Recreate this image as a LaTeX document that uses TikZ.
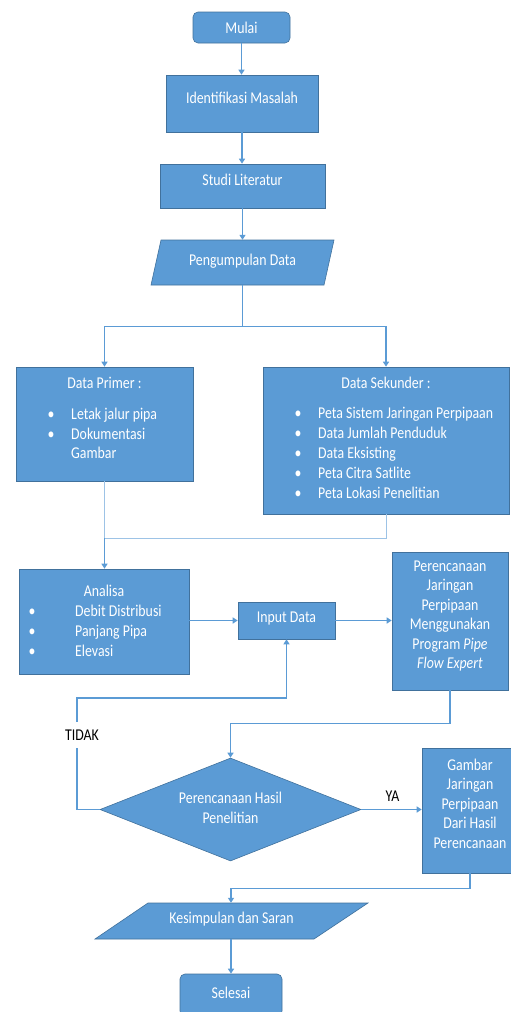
\documentclass[tikz,border=0pt]{standalone}
\usepackage{fontspec}
\setmainfont[FakeStretch=0.84]{Carlito}
\usetikzlibrary{arrows.meta,shapes.geometric}
\definecolor{boxc}{HTML}{5B9BD5}
\definecolor{bordc}{HTML}{41719C}
\definecolor{linec}{HTML}{5B9BD5}
\definecolor{lightc}{HTML}{9DC3E6}
\newcommand\myfs{\fontsize{16.5}{20}\selectfont}
\begin{document}
\begin{tikzpicture}[x=1pt,y=-1pt,
 box/.style={draw=bordc,fill=boxc,line width=0.6pt,inner sep=0pt},
 rbox/.style={box,rounded corners=5pt},
 ghost/.style={inner sep=0pt},
 txt/.style={text=white,anchor=base,inner sep=0pt,font=\myfs},
 btxt/.style={txt,anchor=base west},
 lab/.style={fill=white,text=black,inner sep=0pt,font=\myfs},
 conn/.style={draw=linec,line width=1.3pt},
 arr/.style={conn,-{Triangle[width=6pt,length=5pt]}},
 light/.style={draw=lightc,line width=1pt}]
\useasboundingbox (0,0) rectangle (511,1012);
% --- boxes ---
\node[rbox,minimum width=97pt,minimum height=31pt] (mulai) at (241.5,27.5) {};
\node[txt] (tmulai) at (241.5,33) {Mulai};
\node[box,minimum width=152pt,minimum height=57pt] (ident) at (242,103.5) {};
\node[txt] (tident) at (242,103) {Identifikasi Masalah};
\node[box,minimum width=165pt,minimum height=44pt] (studi) at (242.5,186) {};
\node[txt] (tstudi) at (242.5,185) {Studi Literatur};
\filldraw[fill=boxc,draw=bordc,line width=0.6pt] (161,240)--(334,240)--(324,285)--(151,285)--cycle;
\node[ghost,minimum width=163pt,minimum height=45pt] (kumpul) at (242.5,262.5) {};
\node[txt] (tkumpul) at (242.5,265) {Pengumpulan Data};
% data primer
\node[box,minimum width=177pt,minimum height=114pt] (primer) at (104.5,424) {};
\node[txt] (tprim) at (104.5,388) {Data Primer :};
\node[txt] (bp1) at (51,419) {•};
\node[btxt] (tp1) at (71,419) {Letak jalur pipa};
\node[txt] (bp2) at (51,439) {•};
\node[btxt] (tp2) at (71,439) {Dokumentasi};
\node[btxt] (tp3) at (71,458) {Gambar};
% data sekunder
\node[box,minimum width=246pt,minimum height=147pt] (sek) at (386,440.5) {};
\node[txt] (tsek) at (386,388) {Data Sekunder :};
\node[txt] (bs1) at (298,418) {•};
\node[btxt] (ts1) at (318,418) {Peta Sistem Jaringan Perpipaan};
\node[txt] (bs2) at (298,438) {•};
\node[btxt] (ts2) at (318,438) {Data Jumlah Penduduk};
\node[txt] (bs3) at (298,458) {•};
\node[btxt] (ts3) at (318,458) {Data Eksisting};
\node[txt] (bs4) at (298,478) {•};
\node[btxt] (ts4) at (318,478) {Peta Citra Satlite};
\node[txt] (bs5) at (298,498) {•};
\node[btxt] (ts5) at (318,498) {Peta Lokasi Penelitian};
% analisa
\node[box,minimum width=170pt,minimum height=105pt] (analisa) at (104,621.5) {};
\node[txt] (tana) at (104,596) {Analisa};
\node[txt] (ba1) at (32,616) {•};
\node[btxt] (ta1) at (75,616) {Debit Distribusi};
\node[txt] (ba2) at (32,636) {•};
\node[btxt] (ta2) at (75,636) {Panjang Pipa};
\node[txt] (ba3) at (32,656) {•};
\node[btxt] (ta3) at (75,656) {Elevasi};
% input data
\node[box,minimum width=97pt,minimum height=37pt] (input) at (286.5,620.5) {};
\node[txt] (tinput) at (286.5,622) {Input Data};
% perencanaan
\node[box,minimum width=116pt,minimum height=138pt] (pren) at (450,621) {};
\node[txt] (tpr1) at (450,571) {Perencanaan};
\node[txt] (tpr2) at (450,590) {Jaringan};
\node[txt] (tpr3) at (450,610) {Perpipaan};
\node[txt] (tpr4) at (450,629.5) {Menggunakan};
\node[txt] (tpr5) at (450,649) {Program \textit{Pipe}};
\node[txt] (tpr6) at (450,668) {\textit{Flow Expert}};
% decision
\node[diamond,box,minimum width=261pt,minimum height=103pt] (dec) at (230.5,809.5) {};
\node[txt] (tdec1) at (230.5,803) {Perencanaan Hasil};
\node[txt] (tdec2) at (230.5,823) {Penelitian};
% gambar
\node[box,minimum width=96pt,minimum height=125pt] (gambar) at (470,810.5) {};
\node[txt] (tg1) at (470,770) {Gambar};
\node[txt] (tg2) at (470,789) {Jaringan};
\node[txt] (tg3) at (470,809) {Perpipaan};
\node[txt] (tg4) at (470,828) {Dari Hasil};
\node[txt] (tg5) at (470,848) {Perencanaan};
% kesimpulan
\filldraw[fill=boxc,draw=bordc,line width=0.6pt] (148,903)--(368,903)--(314,939)--(95,939)--cycle;
\node[ghost,minimum width=220pt,minimum height=36pt] (kes) at (231,921) {};
\node[txt] (tkes) at (231.5,923) {Kesimpulan dan Saran};
% selesai
\node[rbox,minimum width=102pt,minimum height=42pt] (selesai) at (231,995) {};
\node[txt] (tsel) at (231,998) {Selesai};
% --- connectors ---
\coordinate (mg) at (104.5,538);
\coordinate (tl) at (77,698);
\draw[arr] (mulai.south) -- (mulai.south |- ident.north);
\draw[arr] (ident.south) -- (ident.south |- studi.north);
\draw[arr] (studi.south) -- (studi.south |- kumpul.north);
\draw[arr] (kumpul.south) -- ++(0,41) -| (primer.north);
\draw[arr] (kumpul.south) -- ++(0,41) -| (sek.north);
\draw[light] (primer.south) -- (mg);
\draw[light] (sek.south) |- (mg);
\draw[arr] (mg) -- (mg |- analisa.north);
\draw[arr] (analisa.east |- input.west) -- (input.west);
\draw[arr] (input.east) -- (pren.west |- input.east);
\draw[arr] (pren.south) -- ++(0,33) -| (dec.north);
\draw[arr] (dec.west) -| (tl) -| (input.south);
\draw[arr] (dec.east) -- (gambar.west |- dec.east);
\draw[arr] (gambar.south) -- ++(0,15) -| (kes.north);
\draw[arr] (kes.south) -- (selesai.north);
% labels
\node[lab,minimum width=58pt,minimum height=26pt] (tidak) at (82,735) {TIDAK};
\node[lab,minimum width=33pt,minimum height=23pt] (ya) at (392.5,796.5) {YA};
\end{tikzpicture}
\end{document}
